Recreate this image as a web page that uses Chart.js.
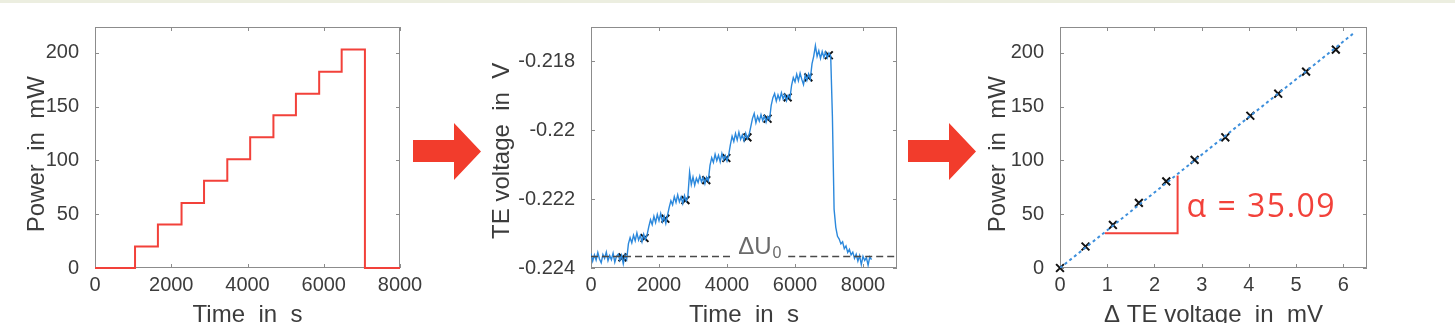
<!DOCTYPE html>
<html>
<head>
<meta charset="utf-8">
<script src="https://cdn.jsdelivr.net/npm/chart.js@4.4.1/dist/chart.umd.min.js"></script>
<style>
  html, body { margin: 0; padding: 0; background: #fff; overflow: hidden; }
  body { width: 1455px; height: 323px; position: relative; }
  .topline { position: absolute; left: 0; top: 0; width: 1455px; height: 3px; background: #eceee0; }
  canvas { position: absolute; top: 0; }
  .arrow {
    position: absolute; top: 123px; width: 68px; height: 57px; background: #f23c2c;
    clip-path: polygon(0 17px, 41px 17px, 41px 0, 68px 28.5px, 41px 57px, 41px 39px, 0 39px);
  }
</style>
</head>
<body>
<div class="topline"></div>
<canvas id="powerChart" width="425" height="330" style="left:0px"></canvas>
<div class="arrow" style="left:413px"></div>
<canvas id="voltageChart" width="437" height="330" style="left:470px"></canvas>
<div class="arrow" style="left:908px"></div>
<canvas id="fitChart" width="417" height="330" style="left:960px"></canvas>
<script>
// ---- data ----
// left: heating power steps (time in s, power in mW)
const stepTimes = [0, 1050, 1650, 2270, 2860, 3470, 4070, 4680, 5270, 5880, 6470, 7080, 8000];
const stepPower = [0, 20, 40.5, 60.5, 81, 101, 121.5, 142, 162, 182.5, 203, 0, 0];

// middle: measured TE voltage (mV), sampled every 50 s
const traceTime = [
  0, 50, 100, 150, 200, 250, 300, 350, 400, 450, 500, 550,
  600, 650, 700, 750, 800, 850, 900, 950, 1000, 1050, 1100, 1150,
  1200, 1250, 1300, 1350, 1400, 1450, 1500, 1550, 1600, 1650, 1700, 1750,
  1800, 1850, 1900, 1950, 2000, 2050, 2100, 2150, 2200, 2250, 2300, 2350,
  2400, 2450, 2500, 2550, 2600, 2650, 2700, 2750, 2800, 2850, 2900, 2950,
  3000, 3050, 3100, 3150, 3200, 3250, 3300, 3350, 3400, 3450, 3500, 3550,
  3600, 3650, 3700, 3750, 3800, 3850, 3900, 3950, 4000, 4050, 4100, 4150,
  4200, 4250, 4300, 4350, 4400, 4450, 4500, 4550, 4600, 4650, 4700, 4750,
  4800, 4850, 4900, 4950, 5000, 5050, 5100, 5150, 5200, 5250, 5300, 5350,
  5400, 5450, 5500, 5550, 5600, 5650, 5700, 5750, 5800, 5850, 5900, 5950,
  6000, 6050, 6100, 6150, 6200, 6250, 6300, 6350, 6400, 6450, 6500, 6550,
  6600, 6650, 6700, 6750, 6800, 6850, 6900, 6950, 7000, 7050, 7100, 7150,
  7200, 7250, 7300, 7350, 7400, 7450, 7500, 7550, 7600, 7650, 7700, 7750,
  7800, 7850, 7900, 7950, 8000, 8050, 8100, 8150, 8200, 8250
];
const traceMv = [
  // before heating (0 - 1050 s)
  -223.58, -223.80, -223.62, -223.77, -223.55, -223.74, -223.85, -223.61, -223.72, -223.54, -223.79,
  -223.64, -223.76, -223.57, -223.83, -223.66, -223.60, -223.78, -223.63, -223.88, -223.62, -223.75,
  // one row per power step
  -223.30, -223.12, -223.27, -223.05, -223.21, -222.98, -223.19, -223.06, -223.24, -223.02, -223.17, -223.04,
  -222.80, -222.60, -222.74, -222.50, -222.68, -222.45, -222.63, -222.42, -222.66, -222.50, -222.71, -222.47,
  -222.24, -222.05, -222.17, -221.93, -222.10, -221.88, -222.08, -221.94, -222.13, -221.90, -222.06, -221.92,
  -221.22, -221.58, -221.36, -221.60, -221.40, -221.52, -221.33, -221.50, -221.38, -221.56, -221.37, -221.47,
  -221.02, -220.80, -220.94, -220.70, -220.89, -220.73, -220.92, -220.68, -220.86, -220.74, -220.90, -220.72,
  -220.42, -220.18, -220.33, -220.10, -220.29, -220.06, -220.27, -220.14, -220.31, -220.09, -220.25, -220.13,
  -219.90, -219.66, -219.52, -219.79, -219.60, -219.74, -219.55, -219.72, -219.59, -219.77, -219.61, -219.70,
  -219.28, -219.06, -218.94, -219.16, -218.98, -219.12, -218.92, -219.10, -218.97, -219.15, -218.99, -219.08,
  -218.70, -218.48, -218.60, -218.38, -218.57, -218.35, -218.53, -218.68, -218.40, -218.56, -218.37, -218.52,
  -218.08, -217.86, -217.55, -217.86, -217.70, -217.92, -217.72, -217.89, -217.74, -217.90, -217.76, -217.85,
  // heater off, cooling down
  -219.60, -222.30, -222.82, -223.08, -223.16, -223.30, -223.24, -223.44, -223.36, -223.55, -223.46, -223.62,
  -223.54, -223.72, -223.60, -223.80, -223.64, -223.90, -223.66, -223.78, -223.70, -223.92, -223.68, -223.76
];
// plateau means picked at the end of each step
const markerTime = [925, 1575, 2187, 2778, 3390, 3981, 4601, 5193, 5784, 6393, 6995];
const markerMv = [-223.69, -223.13, -222.57, -222.03, -221.45, -220.81, -220.21, -219.67, -219.05, -218.47, -217.83];
const baselineMv = -223.67;
const baselineTimes = [0, 4150, 5800, 9000];   // dashed line, gap for the label
const labelTime = 4950;

// right: power vs voltage rise and the linear fit
const deltaMv = [0, 0.54, 1.12, 1.67, 2.25, 2.85, 3.50, 4.03, 4.62, 5.21, 5.84];
const powerMw = [0, 20, 40, 60.5, 80.5, 100.5, 121.5, 141.5, 162, 182.5, 203];
const fitX = [0, 6.2];
const fitY = [0, 217.6];
const triX = [0.95, 2.49, 2.49];
const triY = [32.3, 32.3, 86];
const alphaText = 'α = 35.09';

// tick labels
const timeTicks = [0, 2000, 4000, 6000, 8000];
const powerTicks = [0, 50, 100, 150, 200];
const voltageTicks = [-0.224, -0.222, -0.22, -0.218];
const deltaTicks = [0, 1, 2, 3, 4, 5, 6];

const pts = (xs, ys) => xs.map((x, i) => ({ x: x, y: ys[i] }));

Chart.defaults.font.family = '"Liberation Sans", Arial, sans-serif';
Chart.defaults.color = '#3c3c3c';

// matlab style: full box with inward tick marks
const boxPlugin = {
  id: 'box',
  beforeDatasetsDraw(chart) {
    const { ctx, chartArea: a } = chart;
    const x = chart.scales.x, y = chart.scales.y;
    ctx.save();
    ctx.strokeStyle = '#8c8c8c';
    ctx.lineWidth = 1;
    ctx.strokeRect(a.left + 0.5, a.top + 0.5, a.right - a.left - 1, a.bottom - a.top - 1);
    ctx.beginPath();
    x.ticks.forEach(t => {
      const px = Math.round(x.getPixelForValue(t.value)) + 0.5;
      ctx.moveTo(px, a.bottom); ctx.lineTo(px, a.bottom - 4);
      ctx.moveTo(px, a.top); ctx.lineTo(px, a.top + 4);
    });
    y.ticks.forEach(t => {
      const py = Math.round(y.getPixelForValue(t.value)) + 0.5;
      ctx.moveTo(a.left, py); ctx.lineTo(a.left + 4, py);
      ctx.moveTo(a.right, py); ctx.lineTo(a.right - 4, py);
    });
    ctx.stroke();
    ctx.restore();
  }
};

function xAxis(min, max, ticks, title) {
  return {
    type: 'linear', min: min, max: max,
    grid: { display: false }, border: { display: false },
    afterBuildTicks: s => { s.ticks = ticks.map(v => ({ value: v })); },
    afterFit: s => { s.height = 62; },
    ticks: { font: { size: 20 }, padding: -3, maxRotation: 0, autoSkip: false, callback: v => String(v) },
    title: { display: true, text: title, font: { size: 24 }, padding: { top: 0, bottom: 0 } }
  };
}
function yAxis(min, max, ticks, title, width, titlePad) {
  return {
    type: 'linear', min: min, max: max,
    grid: { display: false }, border: { display: false },
    afterBuildTicks: s => { s.ticks = ticks.map(v => ({ value: v })); },
    afterFit: s => { s.width = width; },
    ticks: { font: { size: 20 }, padding: 8, callback: v => String(v) },
    title: { display: true, text: title, font: { size: 24 }, padding: { top: titlePad, bottom: 0 } }
  };
}

// ---- left: power steps ----
new Chart(document.getElementById('powerChart'), {
  type: 'line',
  data: {
    datasets: [{
      data: pts(stepTimes, stepPower),
      stepped: 'before',
      borderColor: '#f2413a',
      borderWidth: 2,
      pointRadius: 0,
      clip: 4
    }]
  },
  options: {
    responsive: false, animation: false,
    layout: { padding: { top: 27, right: 25, left: 0, bottom: 0 } },
    plugins: { legend: { display: false }, tooltip: { enabled: false } },
    scales: {
      x: xAxis(0, 8000, timeTicks, 'Time  in  s'),
      y: yAxis(0, 224, powerTicks, 'Power  in  mW  ', 95, 22.6)
    }
  },
  plugins: [boxPlugin]
});

// ---- middle: TE voltage ----
const voltLabelPlugin = {
  id: 'voltLabel',
  afterDatasetsDraw(chart) {
    const { ctx } = chart;
    const px = chart.scales.x.getPixelForValue(labelTime);
    const py = chart.scales.y.getPixelForValue(baselineMv / 1000);
    ctx.save();
    ctx.fillStyle = '#6a6a6a';
    ctx.font = '24px "Liberation Sans", Arial, sans-serif';
    ctx.textBaseline = 'alphabetic';
    const w1 = ctx.measureText('ΔU').width;
    ctx.font = '16px "Liberation Sans", Arial, sans-serif';
    const w2 = ctx.measureText('0').width;
    const x0 = px - (w1 + w2) / 2;
    ctx.font = '24px "Liberation Sans", Arial, sans-serif';
    ctx.fillText('ΔU', x0, py - 3);
    ctx.font = '16px "Liberation Sans", Arial, sans-serif';
    ctx.fillText('0', x0 + w1 + 1, py + 1);
    ctx.restore();
  }
};

const bv = baselineMv / 1000;
const baselineData = [
  { x: baselineTimes[0], y: bv }, { x: baselineTimes[1], y: bv },
  { x: labelTime, y: null },
  { x: baselineTimes[2], y: bv }, { x: baselineTimes[3], y: bv }
];

new Chart(document.getElementById('voltageChart'), {
  type: 'line',
  data: {
    datasets: [{
      data: baselineData,
      borderColor: '#4a4a4a',
      borderWidth: 1.5,
      borderDash: [7, 4],
      pointRadius: 0,
      spanGaps: false
    }, {
      data: pts(traceTime, traceMv.map(v => v / 1000)),
      borderColor: '#2b88dc',
      borderWidth: 1.4,
      pointRadius: 0,
      tension: 0
    }, {
      data: pts(markerTime, markerMv.map(v => v / 1000)),
      showLine: false,
      pointStyle: 'crossRot',
      pointRadius: 5.5,
      borderColor: '#111',
      borderWidth: 2
    }]
  },
  options: {
    responsive: false, animation: false,
    layout: { padding: { top: 27, right: 10, left: 0, bottom: 0 } },
    plugins: { legend: { display: false }, tooltip: { enabled: false } },
    scales: {
      x: xAxis(0, 9000, timeTicks, 'Time  in  s'),
      y: yAxis(-0.224, -0.21701, voltageTicks, 'TE voltage  in  V ', 121, 17.6)
    }
  },
  plugins: [boxPlugin, voltLabelPlugin]
});

// ---- right: power over voltage rise ----
const alphaPlugin = {
  id: 'alpha',
  afterDatasetsDraw(chart) {
    const { ctx } = chart;
    const px = chart.scales.x.getPixelForValue(2.49);
    const py = chart.scales.y.getPixelForValue(47);
    ctx.save();
    ctx.fillStyle = '#f2413a';
    ctx.font = '32px "Open Sans", sans-serif';
    ctx.letterSpacing = '1.5px';
    ctx.textBaseline = 'alphabetic';
    ctx.fillText(alphaText, px + 9, py);
    ctx.restore();
  }
};

new Chart(document.getElementById('fitChart'), {
  type: 'line',
  data: {
    datasets: [{
      data: pts(fitX, fitY),
      borderColor: '#3d8fdc',
      borderWidth: 2,
      borderDash: [3, 3],
      pointRadius: 0
    }, {
      data: pts(triX, triY),
      borderColor: '#f2413a',
      borderWidth: 2,
      pointRadius: 0
    }, {
      data: pts(deltaMv, powerMw),
      showLine: false,
      pointStyle: 'crossRot',
      pointRadius: 5.5,
      borderColor: '#111',
      borderWidth: 2,
      clip: false
    }]
  },
  options: {
    responsive: false, animation: false,
    layout: { padding: { top: 27, right: 10, left: 0, bottom: 0 } },
    plugins: { legend: { display: false }, tooltip: { enabled: false } },
    scales: {
      x: xAxis(0, 6.5, deltaTicks, 'Δ TE voltage  in  mV'),
      y: yAxis(0, 224, powerTicks, 'Power  in  mW  ', 100, 23.6)
    }
  },
  plugins: [boxPlugin, alphaPlugin]
});
</script>
</body>
</html>
